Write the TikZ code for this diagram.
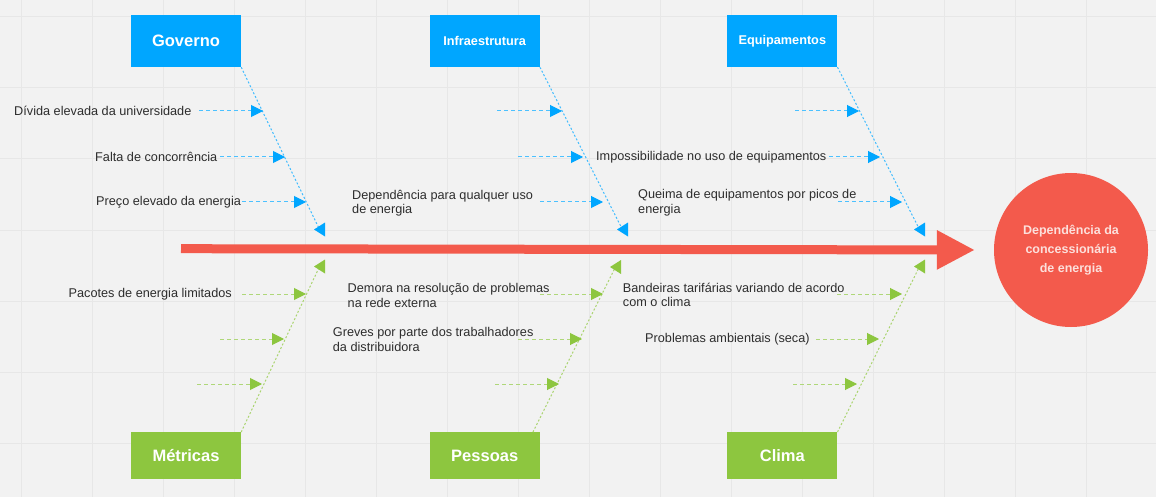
\documentclass[tikz,border=0pt]{standalone}
\usepackage{xcolor}
\usepackage{fontspec}
\setmainfont{Liberation Sans}
\usetikzlibrary{arrows.meta}
\definecolor{causeblue}{RGB}{0,166,255}
\definecolor{causegreen}{RGB}{141,198,63}
\definecolor{effectred}{RGB}{243,90,76}
\definecolor{canvas}{RGB}{242,242,242}
\definecolor{gridline}{RGB}{231,231,231}
\definecolor{labeltext}{RGB}{45,45,45}
\definecolor{effecttext}{RGB}{252,224,220}
\tikzstyle{category}=[minimum width=110pt,inner sep=0pt,text=white,font=\fontsize{16.5}{19}\selectfont\bfseries]
\tikzstyle{topcat}=[category,fill=causeblue,minimum height=52pt]
\tikzstyle{botcat}=[category,fill=causegreen,minimum height=47pt]
\tikzstyle{subcause}=[anchor=west,inner sep=0pt,text=labeltext,align=left,font=\fontsize{12.7}{14.5}\selectfont]
\tikzstyle{effect}=[circle,fill=effectred,minimum size=154pt,inner sep=0pt,align=center,text=effecttext,font=\fontsize{12.5}{19.3}\selectfont\bfseries]
\tikzset{spine/.style={effectred,line width=9pt,-{Triangle[length=38pt,width=37pt]}}}
\tikzset{bluebone/.style={causeblue!75,line width=1pt,dash pattern=on 2pt off 2pt}}
\tikzset{greenbone/.style={causegreen!75,line width=1pt,dash pattern=on 2pt off 2pt}}
\tikzset{bluebranch/.style={causeblue!70,line width=1pt,dash pattern=on 4pt off 3pt,-{Triangle[length=12pt,width=12pt,color=causeblue]}}}
\tikzset{greenbranch/.style={causegreen!70,line width=1pt,dash pattern=on 4pt off 3pt,-{Triangle[length=12pt,width=12pt,color=causegreen]}}}
\tikzset{bonehead/.pic={\fill (-7,-3) -- (4,-10) -- (4,4) -- cycle;}}

\begin{document}
\begin{tikzpicture}[x=1pt,y=-1pt]
  \useasboundingbox (0,0) rectangle (1156,497);
  \fill[canvas] (0,0) rectangle (1156,497);
  \begin{scope}[shift={(21,17)}]
    \draw[gridline,line width=1pt,step=71pt] (-21,-17) grid (1135,480);
  \end{scope}

  %% Categories
  \draw (186,41) node[topcat] (Governo) {Governo};
  \draw (484.7,41) node[topcat,font=\fontsize{12.7}{14}\selectfont\bfseries] (Infra) {Infraestrutura};
  \draw (782.3,41) node[topcat,font=\fontsize{12.7}{14}\selectfont\bfseries] (Equip) {Equipamentos};
  \draw (186,455.8) node[botcat] (Metricas) {Métricas};
  \draw (484.7,455.8) node[botcat] (Pessoas) {Pessoas};
  \draw (782.3,455.8) node[botcat] (Clima) {Clima};

  %% Effect
  \draw (1071,250) node[effect] (Effect) {Dependência da\\concessionária\\de energia};
  \coordinate (SpineStart) at (181,248.7);
  \draw[spine,shorten >=19pt] (SpineStart) -- (Effect.west);

  %% Bones
  \coordinate (GovEnd) at (321,232.5);
  \coordinate (InfraEnd) at (624,232.5);
  \coordinate (EquipEnd) at (921,232.5);
  \coordinate (MetEnd) at (321,263.5);
  \coordinate (PesEnd) at (617,264);
  \coordinate (ClimaEnd) at (921,263.5);
  \draw[bluebone] (Governo.south east) -- (GovEnd);
  \draw[bluebone] (Infra.south east) -- (InfraEnd);
  \draw[bluebone] (Equip.south east) -- (EquipEnd);
  \draw[greenbone] (Metricas.north east) -- (MetEnd);
  \draw[greenbone] ([xshift=-7pt]Pessoas.north east) -- (PesEnd);
  \draw[greenbone] (Clima.north east) -- (ClimaEnd);
  \pic[causeblue] at (GovEnd) {bonehead};
  \pic[causeblue] at (InfraEnd) {bonehead};
  \pic[causeblue] at (EquipEnd) {bonehead};
  \pic[causegreen,yscale=-1] at (MetEnd) {bonehead};
  \pic[causegreen,yscale=-1] at (PesEnd) {bonehead};
  \pic[causegreen,yscale=-1] at (ClimaEnd) {bonehead};

  %% Causes
  \draw (14,111) node[subcause] (GovA) {Dívida elevada da universidade};
  \draw (95,157) node[subcause] (GovB) {Falta de concorrência};
  \draw (96,202) node[subcause] (GovC) {Preço elevado da energia};
  \draw (352,203) node[subcause] (InfraC) {Dependência para qualquer uso\\de energia};
  \draw (596,157) node[subcause] (EquipB) {Impossibilidade no uso de equipamentos};
  \draw (638,202.5) node[subcause] (EquipC) {Queima de equipamentos por picos de\\energia};
  \draw (68.5,294) node[subcause] (MetA) {Pacotes de energia limitados};
  \draw (347.5,295.5) node[subcause] (PesA) {Demora na resolução de problemas\\na rede externa};
  \draw (332.7,339.5) node[subcause] (PesB) {Greves por parte dos trabalhadores\\da distribuidora};
  \draw (622.7,295) node[subcause] (ClimaA) {Bandeiras tarifárias variando de acordo\\com o clima};
  \draw (645,339.3) node[subcause] (ClimaB) {Problemas ambientais (seca)};

  %% Branch arrows
  \coordinate (G1s) at (199,111); \coordinate (G1t) at (263,111);
  \coordinate (G2s) at (220,157); \coordinate (G2t) at (285,157);
  \coordinate (G3s) at (242,202); \coordinate (G3t) at (306,202);
  \coordinate (I1s) at (497,111); \coordinate (I1t) at (562,111);
  \coordinate (I2s) at (518,157); \coordinate (I2t) at (583,157);
  \coordinate (I3s) at (540,202); \coordinate (I3t) at (603,202);
  \coordinate (E1s) at (795,111); \coordinate (E1t) at (859,111);
  \coordinate (E2s) at (829,157); \coordinate (E2t) at (880,157);
  \coordinate (E3s) at (838,202); \coordinate (E3t) at (902,202);
  \coordinate (M1s) at (242,294); \coordinate (M1t) at (306,294);
  \coordinate (M2s) at (220,339); \coordinate (M2t) at (284,339);
  \coordinate (M3s) at (197,384); \coordinate (M3t) at (262,384);
  \coordinate (P1s) at (540,294); \coordinate (P1t) at (603,294);
  \coordinate (P2s) at (518,339); \coordinate (P2t) at (582,339);
  \coordinate (P3s) at (495,384); \coordinate (P3t) at (559,384);
  \coordinate (C1s) at (837,294); \coordinate (C1t) at (902,294);
  \coordinate (C2s) at (816,339); \coordinate (C2t) at (879,339);
  \coordinate (C3s) at (793,384); \coordinate (C3t) at (857,384);

  \draw[bluebranch] (G1s) -- (G1t);
  \draw[bluebranch] (G2s) -- (G2t);
  \draw[bluebranch] (G3s) -- (G3t);
  \draw[bluebranch] (I1s) -- (I1t);
  \draw[bluebranch] (I2s) -- (I2t);
  \draw[bluebranch] (I3s) -- (I3t);
  \draw[bluebranch] (E1s) -- (E1t);
  \draw[bluebranch] (E2s) -- (E2t);
  \draw[bluebranch] (E3s) -- (E3t);
  \draw[greenbranch] (M1s) -- (M1t);
  \draw[greenbranch] (M2s) -- (M2t);
  \draw[greenbranch] (M3s) -- (M3t);
  \draw[greenbranch] (P1s) -- (P1t);
  \draw[greenbranch] (P2s) -- (P2t);
  \draw[greenbranch] (P3s) -- (P3t);
  \draw[greenbranch] (C1s) -- (C1t);
  \draw[greenbranch] (C2s) -- (C2t);
  \draw[greenbranch] (C3s) -- (C3t);
\end{tikzpicture}
\end{document}
